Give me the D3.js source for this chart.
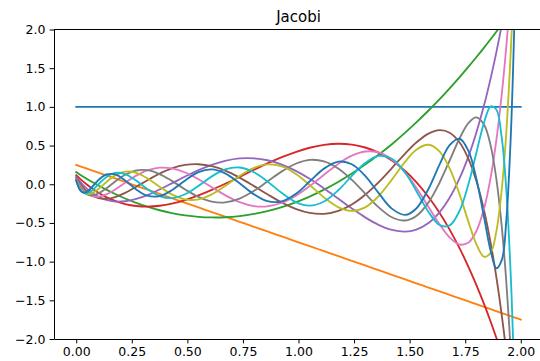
<!DOCTYPE html>
<html><head><meta charset="utf-8">
<script src="https://cdn.jsdelivr.net/npm/d3@7/dist/d3.min.js"></script>
<style>html,body{margin:0;padding:0;background:#fff;}svg{display:block;font-family:"DejaVu Sans",sans-serif;}</style>
</head><body><svg id="chart" width="540" height="361"></svg>
<script>
const titleText = "Jacobi";
const xTicks = [0, 0.25, 0.5, 0.75, 1, 1.25, 1.5, 1.75, 2];
const yTicks = [-2, -1.5, -1, -0.5, 0, 0.5, 1, 1.5, 2];
const colors = ["#1f77b4","#ff7f0e","#2ca02c","#d62728","#9467bd","#8c564b","#e377c2","#7f7f7f","#bcbd22","#17becf","#1f77b4"];
const xs = [0, 0.003, 0.011, 0.025, 0.045, 0.07, 0.1, 0.135, 0.175, 0.22, 0.27, 0.32, 0.375, 0.43, 0.49, 0.55, 0.61, 0.67, 0.735, 0.8, 0.86, 0.925, 0.99, 1.05, 1.115, 1.18, 1.24, 1.3, 1.36, 1.42, 1.48, 1.53, 1.585, 1.635, 1.68, 1.725, 1.765, 1.8, 1.835, 1.865, 1.89, 1.915, 1.935, 1.955, 1.97, 1.985, 2.0];
const deg0 = [1,1,1,1,1,1,1,1,1,1,1,1,1,1,1,1,1,1,1,1,1,1,1,1,1,1,1,1,1,1,1,1,1,1,1,1,1,1,1,1,1,1,1,1,1,1,1];
const deg1 = [0.25, 0.247, 0.239, 0.225, 0.205, 0.18, 0.15, 0.115, 0.075, 0.03, -0.02, -0.07, -0.125, -0.18, -0.24, -0.3, -0.36, -0.42, -0.485, -0.55, -0.61, -0.675, -0.74, -0.8, -0.865, -0.93, -0.99, -1.05, -1.11, -1.17, -1.23, -1.28, -1.335, -1.385, -1.43, -1.475, -1.515, -1.55, -1.585, -1.615, -1.64, -1.665, -1.685, -1.705, -1.72, -1.735, -1.75];
const deg2 = [0.156, 0.151, 0.136, 0.110, 0.075, 0.032, -0.016, -0.070, -0.126, -0.184, -0.241, -0.290, -0.336, -0.373, -0.402, -0.421, -0.429, -0.427, -0.412, -0.384, -0.347, -0.295, -0.230, -0.159, -0.070, 0.032, 0.138, 0.254, 0.381, 0.518, 0.667, 0.799, 0.953, 1.100, 1.240, 1.385, 1.520, 1.641, 1.766, 1.877, 1.971, 2.066, 2.144, 2.224, 2.284, 2.345, 2.406];
const deg3 = [0.117, 0.109, 0.087, 0.050, 0.002, -0.053, -0.110, -0.166, -0.216, -0.256, -0.281, -0.289, -0.278, -0.251, -0.205, -0.144, -0.073, 0.006, 0.096, 0.187, 0.269, 0.350, 0.420, 0.472, 0.509, 0.523, 0.512, 0.475, 0.408, 0.307, 0.171, 0.028, -0.164, -0.371, -0.586, -0.829, -1.070, -1.300, -1.550, -1.780, -1.984, -2.197, -2.376, -2.563, -2.707, -2.855, -3.008];
const deg4 = [0.095, 0.084, 0.055, 0.008, -0.050, -0.109, -0.162, -0.203, -0.224, -0.220, -0.190, -0.140, -0.068, 0.012, 0.100, 0.183, 0.252, 0.303, 0.334, 0.335, 0.310, 0.253, 0.169, 0.070, -0.054, -0.188, -0.312, -0.428, -0.524, -0.590, -0.613, -0.587, -0.502, -0.361, -0.175, 0.078, 0.363, 0.666, 1.023, 1.375, 1.704, 2.066, 2.381, 2.719, 2.989, 3.273, 3.572];
const deg5 = [0.081, 0.067, 0.031, -0.024, -0.087, -0.142, -0.178, -0.187, -0.165, -0.112, -0.033, 0.052, 0.138, 0.206, 0.250, 0.259, 0.233, 0.176, 0.085, -0.024, -0.129, -0.236, -0.321, -0.370, -0.382, -0.343, -0.261, -0.135, 0.025, 0.209, 0.397, 0.539, 0.655, 0.699, 0.666, 0.539, 0.325, 0.044, -0.341, -0.767, -1.198, -1.706, -2.172, -2.696, -3.129, -3.599, -4.108];
const deg6 = [0.071, 0.053, 0.011, -0.050, -0.111, -0.153, -0.161, -0.132, -0.068, 0.020, 0.111, 0.179, 0.214, 0.205, 0.152, 0.065, -0.039, -0.141, -0.231, -0.282, -0.285, -0.239, -0.144, -0.023, 0.124, 0.266, 0.369, 0.423, 0.411, 0.320, 0.150, -0.045, -0.294, -0.520, -0.688, -0.779, -0.752, -0.607, -0.311, 0.096, 0.567, 1.179, 1.784, 2.506, 3.130, 3.833, 4.621];
const deg7 = [0.063, 0.043, -0.006, -0.070, -0.125, -0.144, -0.119, -0.054, 0.036, 0.123, 0.178, 0.182, 0.132, 0.044, -0.067, -0.164, -0.225, -0.235, -0.185, -0.085, 0.035, 0.166, 0.268, 0.315, 0.296, 0.201, 0.056, -0.121, -0.296, -0.426, -0.468, -0.410, -0.234, 0.023, 0.307, 0.594, 0.794, 0.865, 0.770, 0.493, 0.073, -0.564, -1.266, -2.169, -2.999, -3.976, -5.116];
const deg8 = [0.057, 0.034, -0.020, -0.085, -0.127, -0.119, -0.062, 0.027, 0.114, 0.163, 0.148, 0.077, -0.031, -0.131, -0.196, -0.195, -0.131, -0.023, 0.107, 0.212, 0.256, 0.230, 0.129, -0.009, -0.171, -0.298, -0.344, -0.298, -0.155, 0.059, 0.292, 0.447, 0.510, 0.422, 0.204, -0.134, -0.489, -0.773, -0.937, -0.882, -0.613, -0.052, 0.675, 1.717, 2.746, 4.027, 5.596];
const deg9 = [0.053, 0.026, -0.033, -0.095, -0.119, -0.083, -0.000, 0.091, 0.146, 0.131, 0.047, -0.061, -0.152, -0.179, -0.129, -0.021, 0.102, 0.192, 0.217, 0.155, 0.037, -0.114, -0.234, -0.276, -0.223, -0.075, 0.107, 0.275, 0.366, 0.329, 0.148, -0.086, -0.358, -0.527, -0.532, -0.340, 0.006, 0.405, 0.799, 1.007, 0.966, 0.587, -0.078, -1.185, -2.390, -3.989, -6.062];
const deg10 = [0.049, 0.019, -0.043, -0.100, -0.102, -0.039, 0.055, 0.126, 0.127, 0.049, -0.067, -0.148, -0.153, -0.077, 0.049, 0.156, 0.192, 0.141, 0.013, -0.131, -0.219, -0.221, -0.120, 0.035, 0.202, 0.292, 0.259, 0.109, -0.112, -0.315, -0.396, -0.313, -0.058, 0.258, 0.505, 0.588, 0.428, 0.075, -0.430, -0.867, -1.086, -0.974, -0.466, 0.617, 1.950, 3.867, 6.517];
const seriesList = [deg0, deg1, deg2, deg3, deg4, deg5, deg6, deg7, deg8, deg9, deg10];

const svg = d3.select("#chart");
const L = 54, R = 543, T = 29.5, B = 339;
const x = d3.scaleLinear().domain([-0.1, 2.1]).range([L, R]);
const y = d3.scaleLinear().domain([-2, 2]).range([B, T]);

svg.append("defs").append("clipPath").attr("id", "plotclip")
  .append("rect").attr("x", L).attr("y", T).attr("width", R - L).attr("height", B - T);

const line = d3.line()
  .x((d, i) => x(xs[i]))
  .y(d => y(d))
  .curve(d3.curveCatmullRom.alpha(0.5));

const g = svg.append("g").attr("clip-path", "url(#plotclip)");
seriesList.forEach((s, k) => {
  g.append("path").datum(s)
    .attr("d", line)
    .attr("fill", "none")
    .attr("stroke", colors[k])
    .attr("stroke-width", 1.85)
    .attr("stroke-linejoin", "round")
    .attr("stroke-linecap", "square");
});

const fs = "12.5px";
const xAxis = svg.append("g").attr("transform", `translate(0,${B})`)
  .call(d3.axisBottom(x).tickValues(xTicks).tickFormat(d3.format(".2f")).tickSize(4.4).tickPadding(4.2).tickSizeOuter(0));
const yAxis = svg.append("g").attr("transform", `translate(${L},0)`)
  .call(d3.axisLeft(y).tickValues(yTicks).tickFormat(d3.format(".1f")).tickSize(4.4).tickPadding(4.2).tickSizeOuter(0));
[xAxis, yAxis].forEach(a => {
  a.selectAll("text").attr("font-size", fs).attr("font-family", "DejaVu Sans").attr("fill", "#000");
  a.selectAll("line").attr("stroke", "#000").attr("stroke-width", 1);
  a.select(".domain").attr("stroke", "#000").attr("stroke-width", 1);
});
svg.append("line").attr("x1", L).attr("x2", R).attr("y1", T).attr("y2", T).attr("stroke", "#000").attr("stroke-width", 1);
svg.append("line").attr("x1", R).attr("x2", R).attr("y1", T).attr("y2", B).attr("stroke", "#000").attr("stroke-width", 1);

svg.append("text").attr("x", (L + R) / 2).attr("y", 22).attr("text-anchor", "middle")
  .attr("font-size", "15px").attr("font-family", "DejaVu Sans").attr("fill", "#000").text(titleText);
</script></body></html>
